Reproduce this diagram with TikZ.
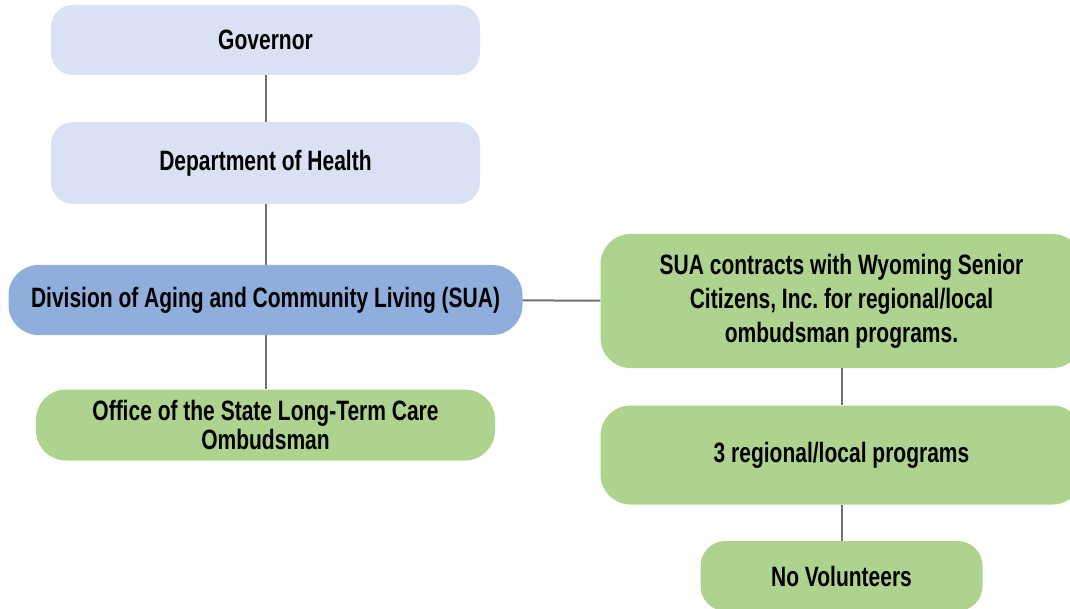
\documentclass[tikz,border=0pt]{standalone}
\usepackage{fontspec}
\setmainfont{Liberation Sans}[FakeStretch=0.75]
\usepackage{tikz}
\usetikzlibrary{positioning}
\definecolor{lightblue}{HTML}{D9E1F2}
\definecolor{midblue}{HTML}{8FAEDC}
\definecolor{lightgreen}{HTML}{AED38F}
\definecolor{linegray}{HTML}{707070}
\tikzstyle{govbox} = [rectangle, rounded corners=22pt, minimum width=429pt, minimum height=70pt, text centered, fill=lightblue]
\tikzstyle{suabox} = [rectangle, rounded corners=30pt, minimum width=514pt, minimum height=70pt, text centered, fill=midblue]
\tikzstyle{progbox} = [rectangle, rounded corners=30pt, minimum width=482pt, minimum height=99pt, align=center, fill=lightgreen]
\tikzstyle{link} = [line width=2pt, draw=linegray]

\begin{document}
\begin{tikzpicture}[node distance=125pt, font=\bfseries\fontsize{28}{32}\selectfont]
\useasboundingbox (0,0) rectangle (1070pt,-609pt);

\node (gov) [govbox] at (265.5pt,-40pt) {Governor};
\node (doh) [govbox, below of=gov, yshift=2pt, minimum height=82pt] {Department of Health};
\node (sua) [suabox, below of=doh, yshift=-12pt] {Division of Aging and Community Living (SUA)};
\node (office) [progbox, below of=sua, minimum width=459pt, minimum height=71pt, font=\bfseries\fontsize{28}{29}\selectfont] {Office of the State Long-Term Care\\Ombudsman};

% regional/local side
\node (contract) [progbox, right of=sua, xshift=451pt, yshift=-1pt, minimum height=134pt, font=\bfseries\fontsize{28}{34}\selectfont] {SUA contracts with Wyoming Senior\\Citizens, Inc.\ for regional/local\\ombudsman programs.};
\node (programs) [progbox, below of=contract, yshift=-29pt] {3 regional/local programs};
\node (volunteers) [progbox, below of=programs, yshift=4pt, minimum width=282pt, minimum height=70pt, rounded corners=25pt] {No Volunteers};

\draw [link] (gov) -- (doh);
\draw [link] (doh) -- (sua);
\draw [link] (sua) -- (office);
\draw [link] (sua) -- (contract);
\draw [link] (contract) -- (programs);
\draw [link] (programs) -- (volunteers);

\end{tikzpicture}
\end{document}
